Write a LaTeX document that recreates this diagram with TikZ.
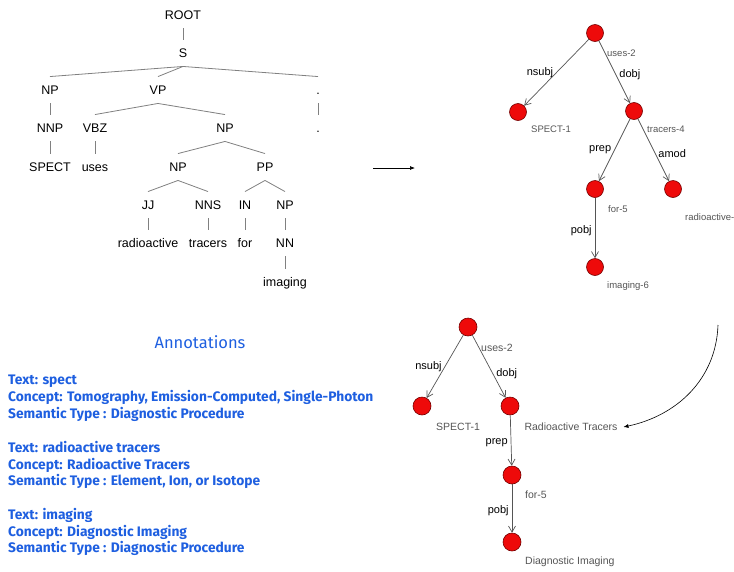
\documentclass[tikz,border=0pt]{standalone}
\usepackage{fontspec}
\setmainfont{Liberation Sans}
\newfontfamily\annfont{Fira Sans}
\usetikzlibrary{arrows,arrows.meta,calc}
\definecolor{annblue}{HTML}{1E5FE0}
\definecolor{treegray}{HTML}{808080}
\definecolor{wordgray}{HTML}{555555}
\definecolor{nodered}{HTML}{EE0A0A}
\tikzset{
  cat/.style={font=\fontsize{12.5}{14}\selectfont, inner xsep=1pt, inner ysep=9pt, text height=8.5pt, text depth=0pt},
  br/.style={draw=treegray, line width=0.8pt},
  vtx/.style={circle, fill=nodered, draw=red!45!black, line width=0.6pt, minimum size=17pt, inner sep=0pt},
  word/.style={font=\fontsize{9.5}{11}\selectfont, text=wordgray, inner sep=1pt},
  bigword/.style={font=\fontsize{10.5}{12}\selectfont, text=wordgray, inner sep=1pt},
  rel/.style={font=\fontsize{11}{13}\selectfont, text=black, inner sep=3pt},
  dep/.style={draw=wordgray, line width=0.7pt, -{Straight Barb[length=6pt,width=7pt]}},
  ann/.style={font=\annfont\bfseries\fontsize{13.8}{16.7}\selectfont, text=annblue, align=left, inner sep=0pt},
  anntitle/.style={font=\annfont\fontsize{16.5}{18}\selectfont, text=annblue, inner sep=0pt}
}
\begin{document}
\begin{tikzpicture}[x=1pt,y=-1pt]
\useasboundingbox (0,0) rectangle (734,571);

% parse tree
\node [cat] (root) at (183,15) {ROOT};
\node [cat] (s) at (183,53) {S};
\node [cat] (np1) at (50,90) {NP};
\node [cat] (vp) at (158,90) {VP};
\node [cat] (pd1) at (318,90) {.};
\node [cat] (nnp) at (50,128) {NNP};
\node [cat] (vbz) at (95,128) {VBZ};
\node [cat] (np2) at (225,128) {NP};
\node [cat] (pd2) at (318,128) {.};
\node [cat] (spect) at (50,167) {SPECT};
\node [cat] (uses) at (95,167) {uses};
\node [cat] (np3) at (178,167) {NP};
\node [cat] (pp) at (265,167) {PP};
\node [cat] (jj) at (148,205) {JJ};
\node [cat] (nns) at (208,205) {NNS};
\node [cat] (in) at (245,205) {IN};
\node [cat] (np4) at (285,205) {NP};
\node [cat] (radio) at (148,243) {radioactive};
\node [cat] (tracers) at (208,243) {tracers};
\node [cat] (for) at (245,243) {for};
\node [cat] (nn) at (285,243) {NN};
\node [cat] (imaging) at (285,282) {imaging};

\draw [br] (root.south) -- (s.north);
\draw [br] (s.south) -- (np1.north);
\draw [br] (s.south) -- (vp.north);
\draw [br] (s.south) -- (pd1.north);
\draw [br] (np1.south) -- (nnp.north);
\draw [br] (vp.south) -- (vbz.north);
\draw [br] (vp.south) -- (np2.north);
\draw [br] (pd1.south) -- (pd2.north);
\draw [br] (nnp.south) -- (spect.north);
\draw [br] (vbz.south) -- (uses.north);
\draw [br] (np2.south) -- (np3.north);
\draw [br] (np2.south) -- (pp.north);
\draw [br] (np3.south) -- (jj.north);
\draw [br] (np3.south) -- (nns.north);
\draw [br] (pp.south) -- (in.north);
\draw [br] (pp.south) -- (np4.north);
\draw [br] (jj.south) -- (radio.north);
\draw [br] (nns.south) -- (tracers.north);
\draw [br] (in.south) -- (for.north);
\draw [br] (np4.south) -- (nn.north);
\draw [br] (nn.south) -- (imaging.north);

\coordinate (go1) at (373,168);
\coordinate (go2) at (415,168);
\draw [line width=0.7pt, -{Latex[length=5pt,width=4pt]}] (go1) -- (go2);

% dependency graph
\node [vtx] (t0) at (595,33) {};
\node [vtx] (t1) at (518,112) {};
\node [vtx] (t2) at (634,111) {};
\node [vtx] (t3) at (595,189) {};
\node [vtx] (t4) at (673,189) {};
\node [vtx] (t5) at (595,267) {};
\node [word, anchor=west] (w0) at (606,53) {uses-2};
\node [word, anchor=west] (w1) at (530,129) {SPECT-1};
\node [word, anchor=west] (w2) at (646,129) {tracers-4};
\node [word, anchor=west] (w3) at (607,209) {for-5};
\node [word, anchor=west] (w4) at (684,217) {radioactive-};
\node [word, anchor=west] (w5) at (606,286) {imaging-6};
\draw [dep] (t0) -- node [rel, midway, left] {nsubj} (t1);
\draw [dep] (t0) -- node [rel, pos=.55, right] {dobj} (t2);
\draw [dep] (t2) -- node [rel, midway, left] {prep} (t3);
\draw [dep] (t2) -- node [rel, pos=.55, right] {amod} (t4);
\draw [dep] (t3) -- node [rel, pos=.55, left] {pobj} (t5);

% merged graph
\node [vtx, minimum size=18pt] (b0) at (468,327) {};
\node [vtx, minimum size=18pt] (b1) at (422,406) {};
\node [vtx, minimum size=18pt] (b2) at (510,406) {};
\node [vtx, minimum size=18pt] (b3) at (512,475) {};
\node [vtx, minimum size=18pt] (b4) at (512,542) {};
\node [bigword, anchor=west] (v0) at (480,348) {uses-2};
\node [bigword, anchor=west] (v1) at (435,427) {SPECT-1};
\node [bigword, outer xsep=5pt] (v2) at (571,427) {Radioactive Tracers};
\node [bigword, anchor=west] (v3) at (524,495) {for-5};
\node [bigword, anchor=west] (v4) at (524,562) {Diagnostic Imaging};
\draw [dep] (b0) -- node [rel, midway, left] {nsubj} (b1);
\draw [dep] (b0) -- node [rel, pos=.62, right] {dobj} (b2);
\draw [dep] (b2) -- node [rel, pos=.55, left] {prep} (b3);
\draw [dep] (b3) -- node [rel, pos=.55, left] {pobj} (b4);

\coordinate (bend) at (718,325);
\draw [line width=0.6pt, -{Latex[length=5pt,width=4pt]}] (bend) to [out=-92, in=12] (v2.east);

% annotations
\node [anntitle] (ttl) at (200,342) {Annotations};
\node [ann, anchor=north west] (a1) at (8,375) {Text: spect\\Concept: Tomography, Emission-Computed, Single-Photon\\Semantic Type : Diagnostic Procedure};
\node [ann, anchor=north west] (a2) at (8,441) {Text: radioactive tracers\\Concept: Radioactive Tracers\\Semantic Type : Element, Ion, or Isotope};
\node [ann, anchor=north west] (a3) at (8,508) {Text: imaging\\Concept: Diagnostic Imaging\\Semantic Type : Diagnostic Procedure};
\end{tikzpicture}
\end{document}
